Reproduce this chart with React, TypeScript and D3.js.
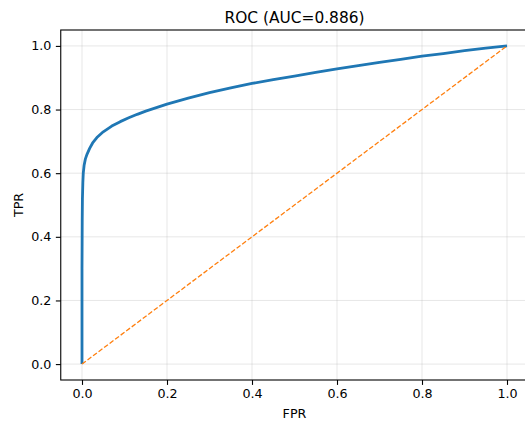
import React, { useRef, useEffect } from 'react';
import * as d3 from 'd3';

const fpr = [0, 0, 0.0005, 0.001, 0.002, 0.003, 0.005, 0.008, 0.012, 0.018, 0.025, 0.035, 0.05, 0.07, 0.09, 0.11, 0.13, 0.15, 0.2, 0.25, 0.3, 0.35, 0.4, 0.45, 0.5, 0.55, 0.6, 0.65, 0.7, 0.75, 0.8, 0.85, 0.9, 0.95, 1.0];
const tpr = [0, 0.3, 0.45, 0.52, 0.57, 0.6, 0.625, 0.645, 0.66, 0.678, 0.695, 0.712, 0.73, 0.748, 0.762, 0.774, 0.785, 0.795, 0.817, 0.836, 0.853, 0.868, 0.882, 0.894, 0.905, 0.917, 0.928, 0.938, 0.948, 0.958, 0.968, 0.976, 0.985, 0.993, 1.0];
const chance = [0, 1];
const ticks = [0, 0.2, 0.4, 0.6, 0.8, 1.0];

const W = 525;
const H = 422;

const App = () => {
  const svgRef = useRef<SVGSVGElement>(null);

  useEffect(() => {
    const svg = d3.select(svgRef.current);
    svg.selectAll('*').remove();

    const x = d3.scaleLinear().domain([-0.05, 1.05]).range([60.75, 528.25]);
    const y = d3.scaleLinear().domain([-0.05, 1.05]).range([380, 30]);
    const font = 'DejaVu Sans, sans-serif';

    // grid
    const g = svg.append('g');
    g.selectAll('.gx').data(ticks).enter().append('line')
      .attr('x1', d => x(d)).attr('x2', d => x(d))
      .attr('y1', y(-0.05)).attr('y2', y(1.05))
      .attr('stroke', '#b0b0b0').attr('stroke-opacity', 0.3).attr('stroke-width', 1);
    g.selectAll('.gy').data(ticks).enter().append('line')
      .attr('y1', d => y(d)).attr('y2', d => y(d))
      .attr('x1', x(-0.05)).attr('x2', x(1.05))
      .attr('stroke', '#b0b0b0').attr('stroke-opacity', 0.3).attr('stroke-width', 1);

    // roc curve
    const pts = fpr.map((f, i) => [f, tpr[i]] as [number, number]);
    svg.append('path')
      .attr('d', d3.line<[number, number]>().x(d => x(d[0])).y(d => y(d[1]))(pts))
      .attr('fill', 'none').attr('stroke', '#1f77b4').attr('stroke-width', 2.8)
      .attr('stroke-linejoin', 'round').attr('stroke-linecap', 'butt');

    // chance line
    svg.append('line')
      .attr('x1', x(chance[0])).attr('y1', y(chance[0]))
      .attr('x2', x(chance[1])).attr('y2', y(chance[1]))
      .attr('stroke', '#ff7f0e').attr('stroke-width', 1.3)
      .attr('stroke-dasharray', '4.8,2.1');

    // spines
    svg.append('rect')
      .attr('x', x(-0.05)).attr('y', y(1.05))
      .attr('width', x(1.05) - x(-0.05)).attr('height', y(-0.05) - y(1.05))
      .attr('fill', 'none').attr('stroke', '#000').attr('stroke-width', 1.1);

    // axes
    const xAxis = svg.append('g').attr('transform', `translate(0,${y(-0.05)})`)
      .call(d3.axisBottom(x).tickValues(ticks).tickFormat(d3.format('.1f')).tickSize(4.9).tickPadding(4.5));
    const yAxis = svg.append('g').attr('transform', `translate(${x(-0.05)},0)`)
      .call(d3.axisLeft(y).tickValues(ticks).tickFormat(d3.format('.1f')).tickSize(4.9).tickPadding(4.5));
    [xAxis, yAxis].forEach(a => {
      a.select('.domain').remove();
      a.selectAll('line').attr('stroke', '#000').attr('stroke-width', 1.1);
      a.selectAll('text').attr('font-family', font).attr('font-size', 12.7).attr('fill', '#000');
    });

    svg.append('text')
      .attr('x', 294.5).attr('y', 23)
      .attr('text-anchor', 'middle')
      .attr('font-family', font).attr('font-size', 15.4)
      .text('ROC (AUC=0.886)');

    svg.append('text')
      .attr('x', 294.5).attr('y', 418)
      .attr('text-anchor', 'middle')
      .attr('font-family', font).attr('font-size', 12.7)
      .text('FPR');

    svg.append('text')
      .attr('transform', 'translate(23,205) rotate(-90)')
      .attr('text-anchor', 'middle')
      .attr('font-family', font).attr('font-size', 12.7)
      .text('TPR');
  }, []);

  return (
    <div style={{ position: 'absolute', left: 0, top: 0, width: W, height: H, background: '#fff' }}>
      <svg ref={svgRef} width={W} height={H} style={{ display: 'block' }}></svg>
    </div>
  );
};

export default App;
